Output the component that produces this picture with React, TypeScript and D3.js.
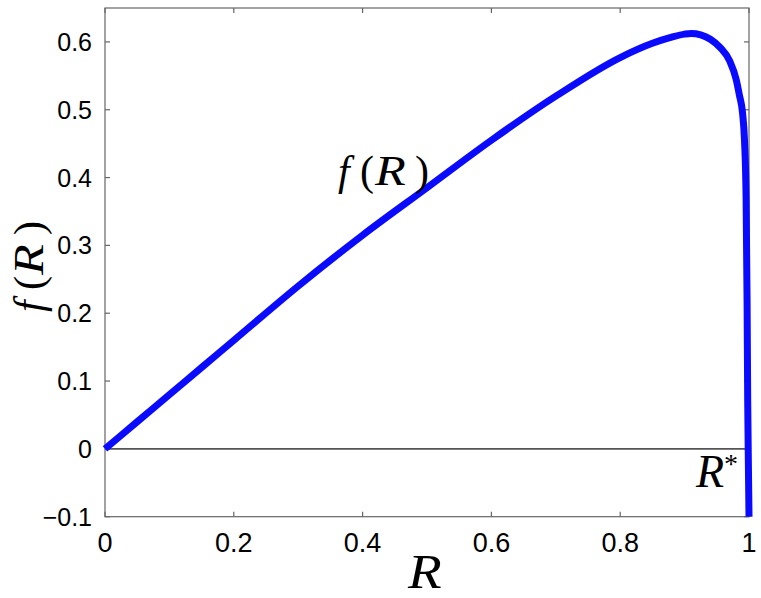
import React from "react";
import * as d3 from "d3";

const R_VALUES = [0, 0.05, 0.1, 0.15, 0.2, 0.3, 0.4, 0.5, 0.6, 0.7, 0.8, 0.85, 0.88, 0.9, 0.91, 0.925, 0.94, 0.955, 0.97, 0.98, 0.985, 0.99, 0.993, 0.9955, 0.997, 0.998, 0.999, 1.0];
const F_VALUES = [0, 0.04, 0.08, 0.12, 0.16, 0.24, 0.315, 0.385, 0.455, 0.52, 0.577, 0.598, 0.607, 0.6115, 0.6125, 0.6105, 0.604, 0.592, 0.572, 0.545, 0.522, 0.495, 0.455, 0.37, 0.22, 0.07, -0.02, -0.1];
const X_TICKS = [0, 0.2, 0.4, 0.6, 0.8, 1];
const Y_TICKS = [-0.1, 0, 0.1, 0.2, 0.3, 0.4, 0.5, 0.6];

const W = 761;
const H = 598;
const LEFT = 105;
const RIGHT = 749;
const TOP = 8;
const BOTTOM = 516.7;

const fmt = (d: number) => (d === 0 ? "0" : d === 1 ? "1" : d.toFixed(1).replace("-", "\u2212"));

const serif = "'Liberation Serif', 'DejaVu Serif', serif";
const sans = "'Liberation Sans', Arial, sans-serif";

function FofR({ x0, y0, size }: { x0: number; y0: number; size: number }) {
  // glyph offsets emulate LaTeX spacing
  return (
    <g fontFamily={serif} fontSize={size} fill="#000">
      <text x={x0} y={y0} fontStyle="italic">f</text>
      <text x={x0 + 22} y={y0}>(</text>
      <text x={x0 + 37} y={y0} fontStyle="italic" transform={`translate(${x0 + 37},0) scale(1.2,1) translate(${-(x0 + 37)},0)`}>R</text>
      <text x={x0 + 77} y={y0}>)</text>
    </g>
  );
}

export default function App() {
  const x = d3.scaleLinear().domain([0, 1]).range([LEFT, RIGHT]);
  const y = d3.scaleLinear().domain([-0.1, 0.65]).range([BOTTOM, TOP]);
  const pts: [number, number][] = R_VALUES.map((r, i) => [r, F_VALUES[i]]);
  const line = d3
    .line<[number, number]>()
    .x((d) => x(d[0]))
    .y((d) => y(d[1]))
    .curve(d3.curveMonotoneX);
  const axisColor = "#666";
  const tickLen = 5;
  return (
    <svg width={W} height={H} style={{ position: "absolute", left: 0, top: 0, background: "#fff" }}>
      <rect x={0} y={0} width={W} height={H} fill="#fff" />
      <line x1={x(0)} x2={x(1)} y1={y(0)} y2={y(0)} stroke="#555" strokeWidth={1.6} />
      <rect x={LEFT} y={TOP} width={RIGHT - LEFT} height={BOTTOM - TOP} fill="none" stroke={axisColor} strokeWidth={1.2} />
      {X_TICKS.map((t) => (
        <g key={"x" + t}>
          <line x1={x(t)} x2={x(t)} y1={BOTTOM} y2={BOTTOM - tickLen} stroke={axisColor} strokeWidth={1.2} />
          <line x1={x(t)} x2={x(t)} y1={TOP} y2={TOP + tickLen} stroke={axisColor} strokeWidth={1.2} />
          <text x={x(t)} y={552} textAnchor="middle" fontFamily={sans} fontSize={27} fill="#000">
            {fmt(t)}
          </text>
        </g>
      ))}
      {Y_TICKS.map((t) => (
        <g key={"y" + t}>
          <line x1={LEFT} x2={LEFT + tickLen} y1={y(t)} y2={y(t)} stroke={axisColor} strokeWidth={1.2} />
          <line x1={RIGHT} x2={RIGHT - tickLen} y1={y(t)} y2={y(t)} stroke={axisColor} strokeWidth={1.2} />
          <text x={92} y={y(t) + 9} textAnchor="end" fontFamily={sans} fontSize={25} fill="#000">
            {fmt(t)}
          </text>
        </g>
      ))}
      <path d={line(pts) || ""} fill="none" stroke="#0a0aff" strokeWidth={7} strokeLinejoin="round" />
      <FofR x0={338} y0={185} size={42} />
      <g transform="translate(43,265) rotate(-90)">
        <FofR x0={-47} y0={0} size={42} />
      </g>
      <text
        x={408}
        y={588}
        fontFamily={serif}
        fontStyle="italic"
        fontSize={48}
        fill="#000"
        transform="translate(408,0) scale(1.15,1) translate(-408,0)"
      >
        R
      </text>
      <text x={696} y={487} fontFamily={serif} fontSize={46} fill="#000">
        <tspan fontStyle="italic">R</tspan>
        <tspan fontSize={28} dy={-14}>*</tspan>
      </text>
    </svg>
  );
}
